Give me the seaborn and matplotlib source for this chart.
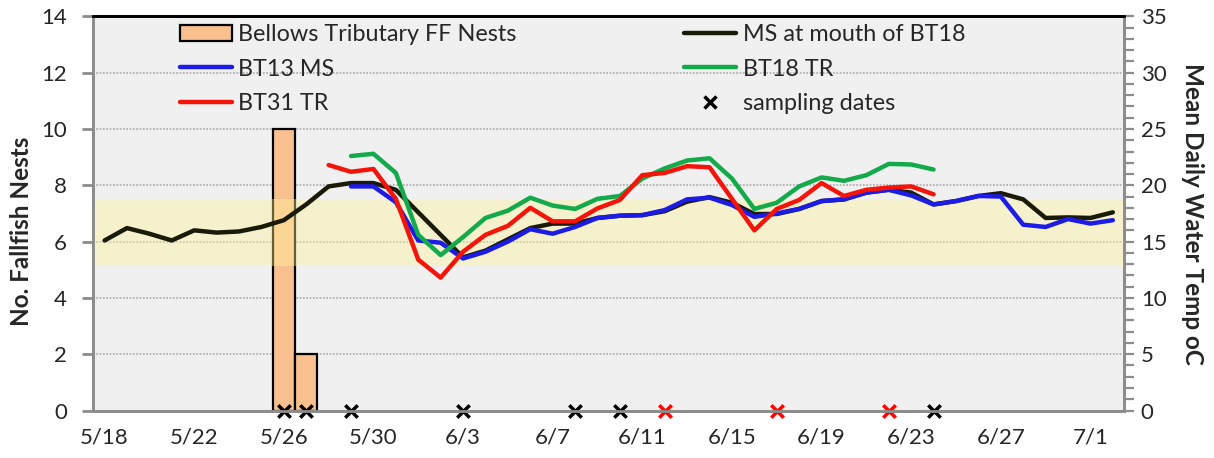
import numpy as np
import pandas as pd
import matplotlib
matplotlib.use("Agg")
import matplotlib.pyplot as plt
import seaborn as sns
from matplotlib.patches import Patch
from matplotlib.lines import Line2D

# x is day number counted from 5/18 (5/18 = 0)
tick_days = [0, 4, 8, 12, 16, 20, 24, 28, 32, 36, 40, 44]
tick_labels = ["5/18", "5/22", "5/26", "5/30", "6/3", "6/7", "6/11",
               "6/15", "6/19", "6/23", "6/27", "7/1"]

# fallfish nests counted in Bellows Tributary
nest_days = [8, 9]
nest_counts = [10, 2]

# mean daily water temp (oC)
ms_mouth_days = list(range(0, 46))
ms_mouth_temp = [15.1, 16.2, 15.7, 15.1, 16.0, 15.8, 15.9, 16.3, 16.9, 18.3,
                 19.9, 20.2, 20.2, 19.6, 17.6, 15.6, 13.6, 14.2, 15.2, 16.2,
                 16.6, 16.6, 17.1, 17.3, 17.35, 17.7, 18.55, 18.95, 18.45, 17.45,
                 17.45, 17.9, 18.6, 18.75, 19.35, 19.6, 19.35, 18.3, 18.6, 19.05,
                 19.3, 18.75, 17.1, 17.15, 17.1, 17.6]

bt13_days = list(range(11, 46))
bt13_temp = [19.9, 19.9, 18.5, 15.1, 14.9, 13.5, 14.1, 15.0, 16.1, 15.7,
             16.3, 17.1, 17.3, 17.35, 17.8, 18.75, 18.9, 18.25, 17.2, 17.5,
             17.9, 18.6, 18.75, 19.35, 19.6, 19.1, 18.3, 18.6, 19.05, 19.0,
             16.5, 16.3, 17.0, 16.6, 16.9]

bt18_days = list(range(11, 38))
bt18_temp = [22.6, 22.8, 21.1, 15.6, 13.8, 15.4, 17.1, 17.75, 18.9, 18.2,
             17.9, 18.8, 19.05, 20.6, 21.5, 22.2, 22.4, 20.6, 17.9, 18.45,
             19.9, 20.7, 20.4, 20.9, 21.9, 21.85, 21.4]

bt31_days = list(range(10, 38))
bt31_temp = [21.8, 21.2, 21.45, 18.8, 13.4, 11.8, 14.1, 15.6, 16.4, 18.0,
             16.8, 16.8, 17.95, 18.7, 20.9, 21.1, 21.7, 21.6, 18.8, 16.0,
             17.9, 18.7, 20.2, 19.05, 19.6, 19.8, 19.9, 19.2]

sample_days_black = [8, 9, 11, 16, 21, 23, 37]
sample_days_red = [25, 30, 35]

# preferred spawning temp band (oC)
band_low, band_high = 12.8, 18.8

sns.set_style("white")
plt.rcParams['font.family'] = ['Lato', 'DejaVu Sans']

c_bar = "#f9c08f"
c_black = "#1a1a08"
c_blue = "#1c1ce6"
c_green = "#12aa4a"
c_red = "#f5140a"
c_gray = "#8c8c8c"

fig = plt.figure(figsize=(12.14, 4.58), dpi=100)
ax = fig.add_axes([0.0769, 0.1037, 0.849, 0.8605])
ax.set_facecolor("#f0f0f0")

for g in range(2, 14, 2):
    ax.axhline(g, color="#a8a8a8", lw=1.2, ls=(0, (1, 1)), zorder=0.5)

sns.barplot(x=nest_days, y=nest_counts, native_scale=True, width=1,
            color=c_bar, saturation=1, edgecolor="black", linewidth=1.6,
            errorbar=None, ax=ax, zorder=2)

ax2 = ax.twinx()
ax2.axhspan(band_low, band_high, color="#fff59a", alpha=0.4, lw=0, zorder=0)

sns.lineplot(x=ms_mouth_days, y=ms_mouth_temp, color=c_black, lw=3.2, ax=ax2)
sns.lineplot(x=bt13_days, y=bt13_temp, color=c_blue, lw=3.2, ax=ax2)
sns.lineplot(x=bt18_days, y=bt18_temp, color=c_green, lw=3.2, ax=ax2)
sns.lineplot(x=bt31_days, y=bt31_temp, color=c_red, lw=3.2, ax=ax2)

sns.scatterplot(x=sample_days_black, y=[0] * len(sample_days_black),
                marker="x", color="black", s=80, linewidth=2.5, ax=ax2)
sns.scatterplot(x=sample_days_red, y=[0] * len(sample_days_red),
                marker="x", color="red", s=80, linewidth=2.5, ax=ax2)
for coll in ax2.collections:
    coll.set_clip_on(False)

ax.set_xlim(-0.5, 45.5)
ax.set_ylim(0, 14)
ax2.set_ylim(0, 35)

ax.set_xticks(tick_days)
ax.set_xticklabels(tick_labels)
ax.set_xticks([d - 0.5 for d in tick_days], minor=True)
ax.tick_params(axis="x", which="major", length=0, pad=12, labelsize=16)
ax.tick_params(axis="x", which="minor", length=7, width=2, color=c_gray,
               direction="out")
ax.set_yticks(range(0, 15, 2))
ax.tick_params(axis="y", length=8, width=2, color=c_gray, pad=11,
               labelsize=16, left=True)

ax2.set_yticks(range(0, 36, 5))
ax2.set_yticks(range(0, 36, 1), minor=True)
ax2.tick_params(axis="y", which="both", length=7, width=1.6, color=c_gray,
                right=True, direction="out")
ax2.tick_params(axis="y", which="major", pad=5, labelsize=16)

for a in (ax, ax2):
    for side in ("left", "bottom", "right"):
        a.spines[side].set_color(c_gray)
        a.spines[side].set_linewidth(2)
    a.spines["top"].set_color("black")
    a.spines["top"].set_linewidth(2)
    a.set_xlabel("")

ax.set_ylabel("No. Fallfish Nests", fontsize=17.5, fontweight="bold")
ax.yaxis.set_label_coords(-0.059, 0.455)
ax2.set_ylabel("Mean Daily Water Temp oC", fontsize=17.5, fontweight="bold",
               rotation=270, labelpad=27)

handles = [
    Patch(facecolor=c_bar, edgecolor="black", linewidth=1.6),
    Line2D([], [], color=c_blue, lw=3.2),
    Line2D([], [], color=c_red, lw=3.2),
    Line2D([], [], color=c_black, lw=3.2),
    Line2D([], [], color=c_green, lw=3.2),
    Line2D([], [], color="black", marker="x", ls="none", markersize=9, mew=2.5),
]
labels = ["Bellows Tributary FF Nests", "BT13 MS", "BT31 TR",
          "MS at mouth of BT18", "BT18 TR", "sampling dates"]
ax2.legend(handles, labels, loc="upper left", bbox_to_anchor=(0.084, 0.98),
           ncol=2, frameon=False, fontsize=16.8, handlelength=2.23,
           handletextpad=0.26, columnspacing=7.2, labelspacing=0.57,
           borderpad=0, borderaxespad=0)

fig.savefig("out.png", dpi=100)
